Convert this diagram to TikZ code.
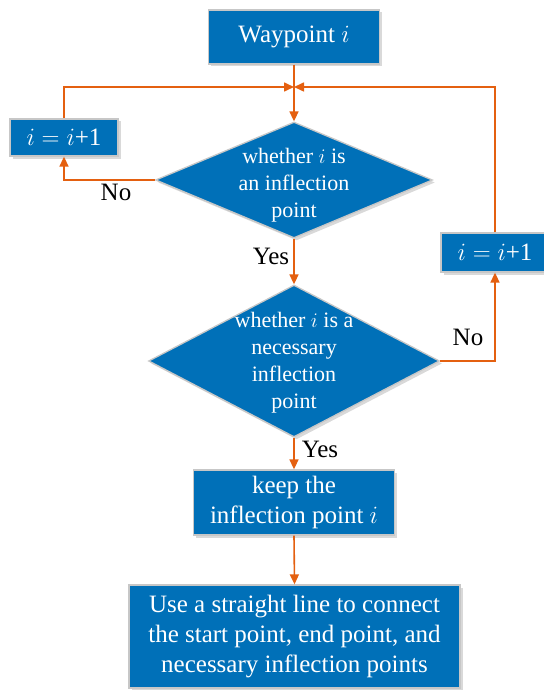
\documentclass[tikz,border=0pt]{standalone}
\usepackage{fontspec}
\setmainfont{Liberation Serif}
\usetikzlibrary{shapes.geometric,shadows,arrows.meta}
\definecolor{flowblue}{RGB}{0,112,184}
\definecolor{floworange}{RGB}{228,96,16}
\newcommand{\wi}{\ensuremath{i}}
\newcommand{\flowfont}{\fontsize{25}{30}\selectfont}
\newcommand{\decfont}{\fontsize{22}{27}\selectfont}

\begin{document}
\begin{tikzpicture}
                \tikzset{x=1pt, y=-1pt, >={Triangle[length=10pt,width=9pt]}}
                \tikzstyle{blk}=[rectangle, draw=black!22, line width=1.3pt, fill=flowblue, text=white, align=center, inner sep=0pt, font=\flowfont, drop shadow={opacity=0.3, shadow xshift=2.5pt, shadow yshift=-2.5pt}]
                \tikzstyle{dec}=[diamond, draw=black!22, line width=1.3pt, fill=flowblue, inner sep=0pt, drop shadow={opacity=0.3, shadow xshift=2.5pt, shadow yshift=-2.5pt}]
                \tikzstyle{dectext}=[text=white, align=center, inner sep=0pt, font=\decfont]
                \tikzstyle{lbl}=[inner sep=0pt, font=\flowfont]
                \tikzstyle{flow}=[draw=floworange, line width=1.6pt]

                \useasboundingbox (0,0) rectangle (543,690);

                \draw (294,37)      node[blk, minimum width=171pt, minimum height=54pt]  (wp)    {Waypoint \wi};
                \draw (64,137.5)    node[blk, minimum width=108pt, minimum height=37pt]  (inc1)  {$i = i$+1};
                \draw (495,252.5)   node[blk, minimum width=108pt, minimum height=39pt]  (inc2)  {$i = i$+1};
                \draw (294,502.5)   node[blk, minimum width=201pt, minimum height=65pt]  (keep)  {keep the\\inflection point \wi};
                \draw (294.5,636.5) node[blk, minimum width=331pt, minimum height=103pt] (join)  {Use a straight line to connect\\the start point, end point, and\\necessary inflection points};

                \draw (294,180)     node[dec, minimum width=277pt, minimum height=116pt] (d1)    {};
                \draw (294,185)     node[dectext]                                        (d1t)   {whether \wi{} is\\an inflection\\point};
                \draw (294,361)     node[dec, minimum width=291pt, minimum height=152pt] (d2)    {};
                \draw (294,363)     node[dectext]                                        (d2t)   {whether \wi{} is a\\necessary\\inflection\\point};

                \coordinate (jn) at (294,87);

                \draw (116,192)     node[lbl]   (no1)   {No};
                \draw (271,256)     node[lbl]   (yes1)  {Yes};
                \draw (468,337)     node[lbl]   (no2)   {No};
                \draw (320,449)     node[lbl]   (yes2)  {Yes};

                \draw [flow, ->]    (wp.south) -- (d1.north);
                \draw [flow, ->]    (d1.west) -| (inc1.south);
                \draw [flow, ->]    (inc1.north) |- (jn);
                \draw [flow, ->]    (d1.south) -- (d2.north);
                \draw [flow, ->]    (d2.east) -| (inc2.south);
                \draw [flow, ->]    (inc2.north) |- (jn);
                \draw [flow, ->]    (d2.south) -- (keep.north);
                \draw [flow, ->]    (keep.south) -- (join.north);
            \end{tikzpicture}
\end{document}
